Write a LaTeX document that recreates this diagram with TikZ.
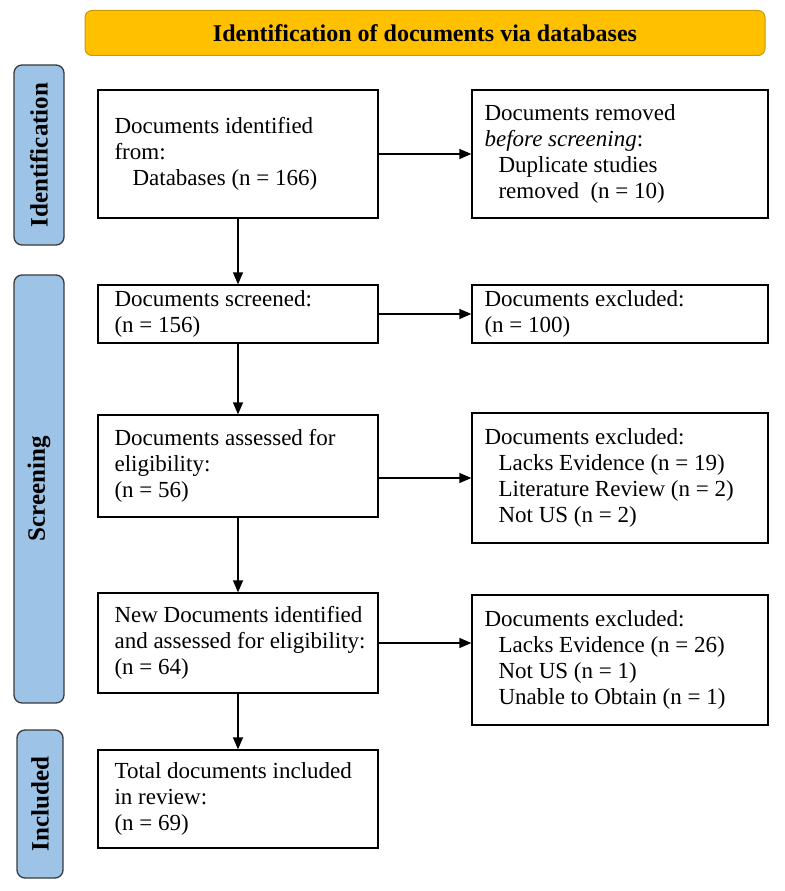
\documentclass[tikz,border=0pt]{standalone}
\usepackage{fontspec}
\setmainfont{Liberation Serif}
\usetikzlibrary{arrows.meta,calc}
\definecolor{gold}{HTML}{FFC000}
\definecolor{goldline}{HTML}{C99A06}
\definecolor{sideblue}{HTML}{9DC3E6}
\definecolor{sideline}{HTML}{3A3A3A}
\begin{document}
\begin{tikzpicture}[x=1pt,y=-1pt,
  box/.style={draw=black, line width=1.3pt, inner sep=0pt},
  txt/.style={inner sep=0pt, align=left, anchor=west, font=\fontsize{23}{26}\selectfont},
  side/.style={draw=sideline, fill=sideblue, line width=1.3pt, rounded corners=8pt, inner sep=0pt},
  sidetxt/.style={rotate=90, font=\bfseries\fontsize{25}{28}\selectfont, inner sep=0pt},
  arr/.style={line width=1.3pt, -{Triangle[length=12pt,width=10pt]}}
]
\useasboundingbox (0,0) rectangle (784,891);

% banner
\node[draw=goldline, fill=gold, line width=1pt, rounded corners=7pt, minimum width=680, minimum height=45, inner sep=0pt,
  font=\bfseries\fontsize{24}{26}\selectfont] (ban) at (425,33) {Identification of documents via databases};

% side bars
\node[side, minimum width=50, minimum height=180] (sid) at (39,155) {};
\node[sidetxt] (sidt) at (sid.center) {Identification};
\node[side, minimum width=50, minimum height=428] (sscr) at (39,489) {};
\node[sidetxt] (sscrt) at (sscr.center) {Screening};
\node[side, minimum width=46, minimum height=148] (sinc) at (40,804) {};
\node[sidetxt] (sinct) at (sinc.center) {Included};

% left column
\node[box, minimum width=280, minimum height=128] (b1) at (238,154) {};
\node[txt] (b1t) at ([xshift=17pt]b1.west) {Documents identified\\from:\\\hspace*{18pt}Databases (n = 166)};
\node[box, minimum width=280, minimum height=58] (b2) at (238,314) {};
\node[txt] (b2t) at ([xshift=17pt]b2.west) {Documents screened:\\(n = 156)};
\node[box, minimum width=280, minimum height=102] (b3) at (238,466) {};
\node[txt] (b3t) at ([xshift=17pt]b3.west) {Documents assessed for\\eligibility:\\(n = 56)};
\node[box, minimum width=280, minimum height=100] (b4) at (238,643) {};
\node[txt] (b4t) at ([xshift=17pt]b4.west) {New Documents identified\\and assessed for eligibility:\\(n = 64)};
\node[box, minimum width=280, minimum height=98] (b5) at (238,799) {};
\node[txt] (b5t) at ([xshift=17pt]b5.west) {Total documents included\\in review:\\(n = 69)};

% right column
\node[box, minimum width=296, minimum height=128] (r1) at (620,154) {};
\node[txt] (r1t) at ([xshift=13pt]r1.west) {Documents removed\\\textit{before screening}:\\\hspace*{14pt}Duplicate studies\\\hspace*{14pt}removed\ \ (n = 10)};
\node[box, minimum width=296, minimum height=58] (r2) at (620,314) {};
\node[txt] (r2t) at ([xshift=13pt]r2.west) {Documents excluded:\\(n = 100)};
\node[box, minimum width=296, minimum height=130] (r3) at (620,478) {};
\node[txt] (r3t) at ([xshift=13pt]r3.west) {Documents excluded:\\\hspace*{14pt}Lacks Evidence (n = 19)\\\hspace*{14pt}Literature Review (n = 2)\\\hspace*{14pt}Not US (n = 2)};
\node[box, minimum width=296, minimum height=130] (r4) at (620,660) {};
\node[txt] (r4t) at ([xshift=13pt]r4.west) {Documents excluded:\\\hspace*{14pt}Lacks Evidence (n = 26)\\\hspace*{14pt}Not US (n = 1)\\\hspace*{14pt}Unable to Obtain (n = 1)};

% arrows
\draw[arr] (b1.south) -- (b2.north);
\draw[arr] (b2.south) -- (b3.north);
\draw[arr] (b3.south) -- (b4.north);
\draw[arr] (b4.south) -- (b5.north);
\draw[arr] (b1.east) -- (r1.west);
\draw[arr] (b2.east) -- (r2.west);
\draw[arr] (r3.west -| b3.east) -- (r3.west);
\draw[arr] (b4.east) -- (b4.east -| r4.west);
\end{tikzpicture}
\end{document}
